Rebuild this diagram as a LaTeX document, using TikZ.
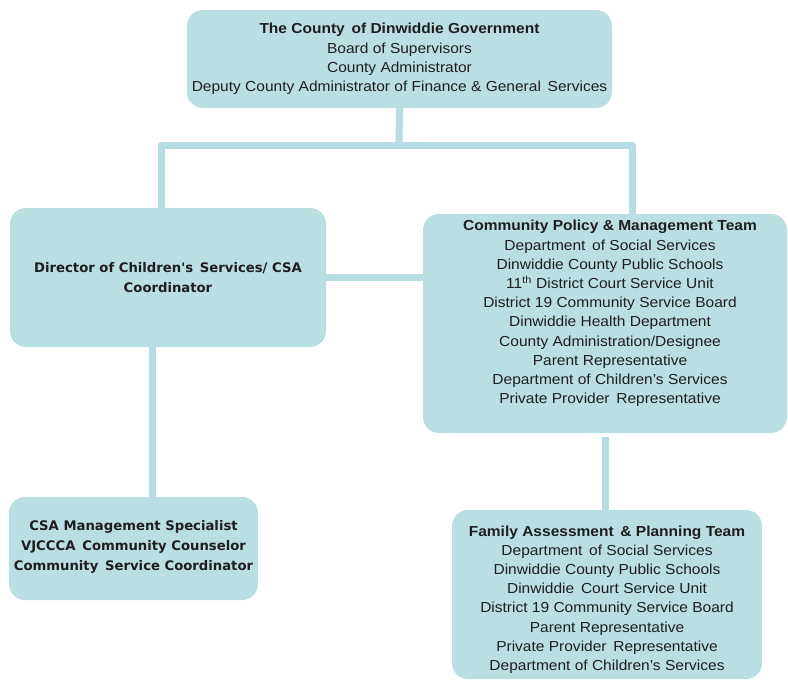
\documentclass[tikz,border=0pt]{standalone}
\usepackage{fontspec}
\setmainfont{Liberation Sans}[FakeStretch=1.07]
\newfontfamily\tahomaish{DejaVu Sans}
\definecolor{boxfill}{HTML}{BADFE2}
\definecolor{connc}{HTML}{B6DDE1}
\definecolor{txt}{HTML}{1E1E1E}
\begin{document}
\begin{tikzpicture}[x=1pt,y=-1pt,
  orgbox/.style={draw=none,fill=boxfill,rounded corners=16pt,inner sep=0pt},
  orgtext/.style={align=center,inner sep=0pt,text=txt,font=\fontsize{14.5}{19.2}\selectfont},
  dejtext/.style={align=center,inner sep=0pt,text=txt,font=\tahomaish\bfseries\fontsize{13.2}{20}\selectfont},
  conn/.style={draw=connc,line width=7pt,line join=round}]
\useasboundingbox (0,0) rectangle (788,681);
% boxes
\node[orgbox,minimum width=425pt,minimum height=98pt] (top) at (399.5,59) {};
\node[orgbox,minimum width=316pt,minimum height=139pt] (dir) at (168,277.5) {};
\node[orgbox,minimum width=364pt,minimum height=219pt] (cpmt) at (605,323.5) {};
\node[orgbox,minimum width=249pt,minimum height=103pt] (bl) at (133.5,548.5) {};
\node[orgbox,minimum width=310pt,minimum height=169pt] (fapt) at (607,594.5) {};
% connectors
\coordinate (hub) at (399,145);
\draw[conn] (top.south) -- (hub);
\draw[conn] ([xshift=-7pt]dir.north) |- ([xshift=27pt]cpmt.north |- hub) -- ([xshift=27pt]cpmt.north);
\draw[conn] (dir.east) -- (dir.east -| cpmt.west);
\draw[conn] ([xshift=-16pt]dir.south) -- ([xshift=-16pt]dir.south |- bl.north);
\draw[conn] ([yshift=-4pt]cpmt.south) -- (cpmt.south |- fapt.north);
% texts
\node[orgtext] (toptext) at (399.5,59) {\textbf{The County\, of Dinwiddie Government}\\Board of Supervisors\\County Administrator\\Deputy County Administrator of Finance \& General\, Services};
\node[dejtext] (dirtext) at (168,278) {Director of Children's\, Services/ CSA\\Coordinator};
\node[orgtext] (cpmttext) at (610,313.5) {\textbf{Community Policy \& Management Team}\\Department\, of Social Services\\Dinwiddie County Public Schools\\11\textsuperscript{th} District Court Service Unit\\District 19 Community Service Board\\Dinwiddie Health Department\\County Administration/Designee\\Parent Representative\\Department of Children's Services\\Private Provider\, Representative};
\node[dejtext] (bltext) at (133.5,547) {CSA Management Specialist\\VJCCCA\, Community Counselor\\Community\, Service Coordinator};
\node[orgtext] (fapttext) at (607,599.5) {\textbf{Family Assessment\, \& Planning Team}\\Department\, of Social Services\\Dinwiddie County Public Schools\\Dinwiddie\, Court Service Unit\\District 19 Community Service Board\\Parent Representative\\Private Provider\, Representative\\Department of Children's Services};
\end{tikzpicture}
\end{document}
